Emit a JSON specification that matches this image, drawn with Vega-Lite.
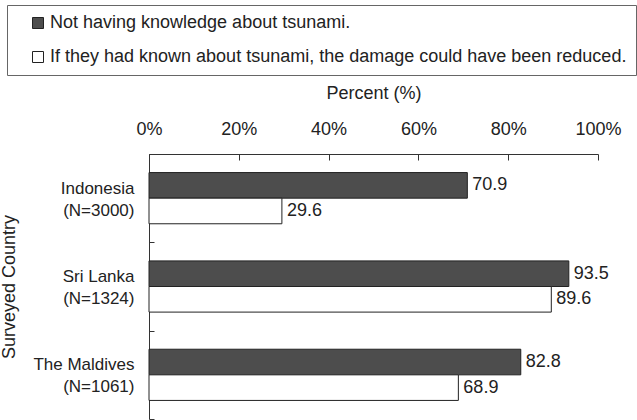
{
  "$schema": "https://vega.github.io/schema/vega-lite/v6.json",
  "width": 449,
  "height": 265,
  "autosize": {"type": "none"},
  "padding": {"left": 149, "top": 154, "right": 39, "bottom": 1},
  "config": {
    "font": "Liberation Sans",
    "view": {"stroke": null},
    "axis": {
      "grid": false,
      "domainColor": "#333",
      "tickColor": "#333",
      "labelColor": "#222",
      "titleColor": "#222",
      "labelFontSize": 18,
      "titleFontSize": 18,
      "titleFontWeight": "normal"
    }
  },
  "data": {
    "values": [
      {"label": "Indonesia (N=3000)", "series": "Not having knowledge about tsunami.", "pct": 70.9},
      {"label": "Indonesia (N=3000)", "series": "If they had known about tsunami, the damage could have been reduced.", "pct": 29.6},
      {"label": "Sri Lanka (N=1324)", "series": "Not having knowledge about tsunami.", "pct": 93.5},
      {"label": "Sri Lanka (N=1324)", "series": "If they had known about tsunami, the damage could have been reduced.", "pct": 89.6},
      {"label": "The Maldives (N=1061)", "series": "Not having knowledge about tsunami.", "pct": 82.8},
      {"label": "The Maldives (N=1061)", "series": "If they had known about tsunami, the damage could have been reduced.", "pct": 68.9}
    ]
  },
  "encoding": {
    "y": {
      "field": "label",
      "type": "nominal",
      "sort": null,
      "scale": {"paddingInner": 0, "paddingOuter": 0},
      "axis": {
        "title": "Surveyed Country",
        "tickBand": "extent",
        "tickSize": -5,
        "labelPadding": 20,
        "labelFontSize": 17,
        "labelLineHeight": 22,
        "labelOffset": -10,
        "labelExpr": "indexof(datum.label, ' (') > 0 ? [split(datum.label, ' (')[0], '(' + split(datum.label, ' (')[1]] : ''",
        "titlePadding": 14
      }
    },
    "yOffset": {
      "field": "series",
      "type": "nominal",
      "sort": null,
      "scale": {"paddingOuter": 0.725, "paddingInner": 0}
    },
    "x": {
      "field": "pct",
      "type": "quantitative",
      "scale": {"domain": [0, 100], "nice": false},
      "axis": {
        "orient": "top",
        "values": [0, 20, 40, 60, 80, 100],
        "labelExpr": "datum.value + '%'",
        "labelFlush": false,
        "title": "Percent (%)",
        "tickSize": -6,
        "labelPadding": 22,
        "titlePadding": 18
      }
    }
  },
  "layer": [
    {
      "mark": {"type": "bar", "stroke": "#222", "strokeWidth": 1},
      "encoding": {
        "color": {
          "field": "series",
          "type": "nominal",
          "sort": null,
          "scale": {"range": ["#4d4d4d", "#ffffff"]},
          "legend": {
            "orient": "none",
            "legendX": -142,
            "legendY": -149,
            "title": null,
            "strokeColor": "#666",
            "padding": 9,
            "labelFontSize": 18,
            "labelColor": "#222",
            "symbolType": "square",
            "symbolSize": 121,
            "symbolStrokeColor": "#222",
            "symbolStrokeWidth": 1,
            "symbolOpacity": 1,
            "symbolOffset": 13,
            "rowPadding": 16,
            "labelOffset": 3,
            "labelLimit": 0
          }
        }
      }
    },
    {
      "mark": {"type": "text", "align": "left", "baseline": "middle", "dx": 5, "fontSize": 18, "color": "#222"},
      "encoding": {
        "text": {"field": "pct", "type": "quantitative", "format": ".1f"}
      }
    }
  ]
}
